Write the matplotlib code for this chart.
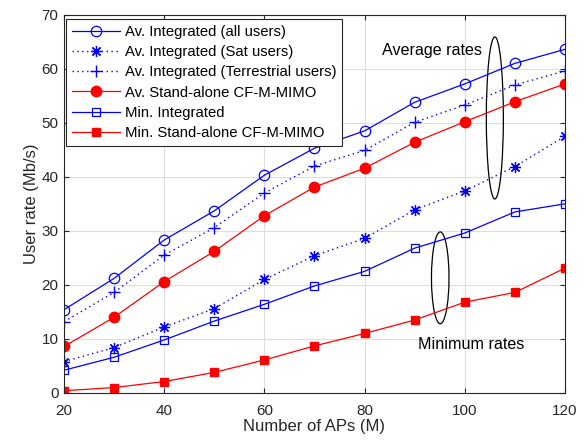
import matplotlib
matplotlib.use('Agg')
import matplotlib.pyplot as plt
from matplotlib.patches import Ellipse

plt.rcParams['font.family'] = ['Liberation Sans', 'DejaVu Sans']

num_aps = [20, 30, 40, 50, 60, 70, 80, 90, 100, 110, 120]
av_all = [15.4, 21.2, 28.3, 33.7, 40.3, 45.3, 48.5, 53.8, 57.2, 61.0, 63.6]
av_sat = [5.8, 8.4, 12.2, 15.6, 21.0, 25.4, 28.6, 33.9, 37.4, 41.9, 47.5]
av_terr = [13.2, 18.6, 25.5, 30.6, 37.0, 42.0, 44.9, 50.1, 53.3, 57.0, 59.6]
av_standalone = [8.6, 14.0, 20.6, 26.2, 32.8, 38.1, 41.6, 46.4, 50.2, 53.9, 57.2]
min_integrated = [4.2, 6.6, 9.8, 13.3, 16.4, 19.8, 22.5, 26.8, 29.6, 33.5, 35.0]
min_standalone = [0.4, 1.0, 2.1, 3.8, 6.1, 8.7, 11.0, 13.5, 16.8, 18.6, 23.1]

fig = plt.figure(figsize=(5.87, 4.47), dpi=100)
ax = fig.add_axes([0.109, 0.121, 0.8535, 0.846])

lw = 0.9
dots = (0, (1, 2.5))
asterisk = (8, 2, 0)
ax.plot(num_aps, av_all, '-o', color='blue', lw=lw, ms=7.5, mfc='none', mew=0.9,
        label='Av. Integrated (all users)')
ax.plot(num_aps, av_sat, color='blue', ls=dots, marker=asterisk, lw=1.0, ms=8, mew=0.9,
        label='Av. Integrated (Sat users)')
ax.plot(num_aps, av_terr, color='blue', ls=dots, marker='+', lw=1.0, ms=8, mew=1.0,
        label='Av. Integrated (Terrestrial users)')
ax.plot(num_aps, av_standalone, '-o', color='red', lw=lw, ms=7.5,
        label='Av. Stand-alone CF-M-MIMO')
ax.plot(num_aps, min_integrated, '-s', color='blue', lw=lw, ms=5.5, mfc='none', mew=0.9,
        label='Min. Integrated')
ax.plot(num_aps, min_standalone, '-s', color='red', lw=lw, ms=5.5,
        label='Min. Stand-alone CF-M-MIMO')

# annotation ellipses
ax.add_patch(Ellipse((106, 50.9), 3.4, 30, fill=False, ec='black', lw=0.9))
ax.add_patch(Ellipse((95.1, 21.3), 3.5, 17, fill=False, ec='black', lw=0.9))
ax.text(83.4, 63.3, 'Average rates', fontsize=11.6, va='center', ha='left')
ax.text(101.2, 8.9, 'Minimum rates', fontsize=11.6, va='center', ha='center')

ax.set_xlim(20, 120)
ax.set_ylim(0, 70)
ax.set_xticks(range(20, 121, 20))
ax.set_yticks(range(0, 71, 10))
ax.grid(True, color='#dfdfdf', lw=0.8)
ax.set_axisbelow(True)
ax.tick_params(direction='in', top=True, right=True, labelsize=11, colors='#262626')
ax.tick_params(axis='x', pad=8)
ax.tick_params(axis='y', pad=4)
for s in ax.spines.values():
    s.set_color('#262626')
    s.set_linewidth(0.8)
ax.set_xlabel('Number of APs (M)', fontsize=12, color='#262626', labelpad=1)
ax.set_ylabel('User rate (Mb/s)', fontsize=12, color='#262626', labelpad=2)

leg = ax.legend(loc='upper left', bbox_to_anchor=(0.004, 0.9894), borderaxespad=0,
                fontsize=10.75, fancybox=False, framealpha=1, edgecolor='#262626',
                handlelength=3.2, labelspacing=0.42, borderpad=0.4, handletextpad=0.33)
leg.get_frame().set_linewidth(0.8)

fig.savefig('out.png', dpi=100)
